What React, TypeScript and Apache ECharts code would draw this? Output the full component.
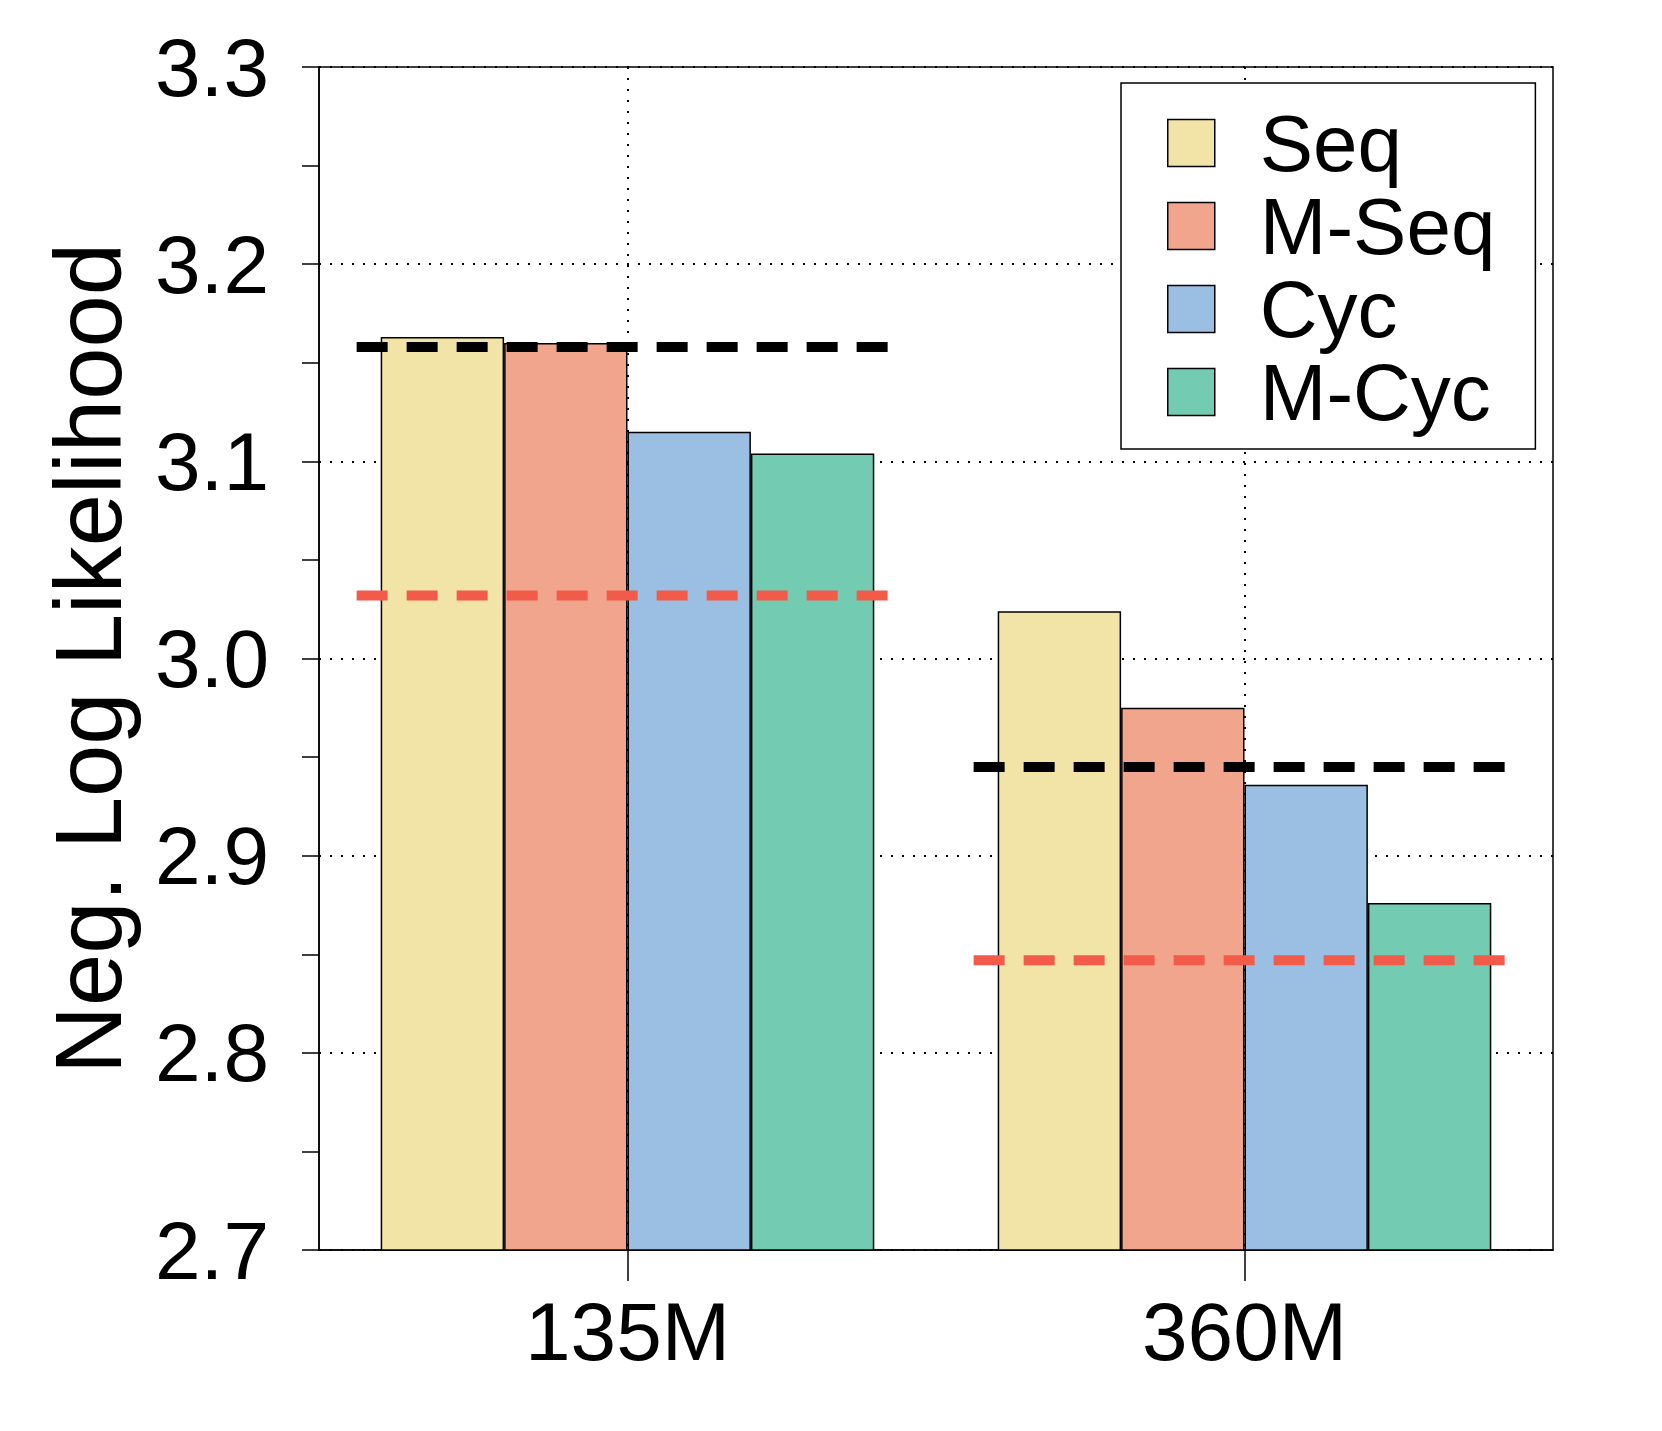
import React, { useEffect, useRef } from "react";
import * as echarts from "echarts";

const categories = ["135M", "360M"];
const seriesNames = ["Seq", "M-Seq", "Cyc", "M-Cyc"];
const seqValues = [3.163, 3.024];
const mSeqValues = [3.16, 2.975];
const cycValues = [3.115, 2.936];
const mCycValues = [3.104, 2.876];
const blackRefValues = [3.158, 2.945];
const redRefValues = [3.032, 2.847];
const yTicks = [2.7, 2.8, 2.9, 3.0, 3.1, 3.2, 3.3];

const colors = ["#F2E4A6", "#F1A58C", "#9BBFE3", "#73CCB2"];
const FONT = "'Liberation Sans', Arial, Helvetica, sans-serif";

export default function App() {
  const ref = useRef<HTMLDivElement>(null);
  useEffect(() => {
    if (!ref.current) return;
    const chart = echarts.init(ref.current, null, { renderer: "svg" });
    const values = [seqValues, mSeqValues, cycValues, mCycValues];
    const barSeries = seriesNames.map((name, i) => ({
      name,
      type: "bar",
      xAxisIndex: 0,
      data: values[i],
      barGap: "0%",
      barCategoryGap: "20%",
      itemStyle: { color: colors[i], borderColor: "#000", borderWidth: 1.5 },
      z: 2,
    }));
    const makeRef = (vals: number[], color: string, name: string) => ({
      name,
      type: "custom",
      xAxisIndex: 0,
      z: 5,
      data: vals.map((v, i) => [i, v]),
      encode: { x: 0, y: 1 },
      renderItem: (params: any, api: any) => {
        const c = api.coord([api.value(0), api.value(1)]);
        const bw = api.size([1, 0])[0];
        return {
          type: "line",
          shape: { x1: c[0] - bw * 0.439, y1: c[1], x2: c[0] + bw * 0.422, y2: c[1] },
          style: { stroke: color, lineWidth: 10, lineDash: [31, 19], fill: null },
        };
      },
    });
    chart.setOption({
      animation: false,
      backgroundColor: "#fff",
      textStyle: { fontFamily: FONT },
      grid: {
        left: 319,
        right: 109,
        top: 67,
        bottom: 181,
        show: true,
        borderColor: "#000",
        borderWidth: 1.5,
        backgroundColor: "transparent",
      },
      legend: {
        data: seriesNames,
        orient: "vertical",
        left: 1121,
        top: 83,
        padding: [20, 40, 17, 46],
        itemWidth: 47,
        itemHeight: 47,
        itemGap: 3,
        backgroundColor: "#fff",
        borderColor: "#000",
        borderWidth: 1.5,
        icon: "rect",
        textStyle: { fontSize: 80, fontFamily: FONT, color: "#000", lineHeight: 80, padding: [0, 0, 0, 40] },
        itemStyle: { borderColor: "#000", borderWidth: 1.5 },
        z: 20,
      },
      xAxis: [
        {
          type: "category",
          data: categories,
          boundaryGap: true,
          axisLine: { show: true, lineStyle: { color: "#000", width: 1.5 } },
          axisTick: { show: true, alignWithLabel: true, length: 31, lineStyle: { color: "#000", width: 1.5 } },
          axisLabel: { fontSize: 82, color: "#000", fontFamily: FONT, margin: 40 },
          splitLine: { show: false },
        },
        {
          type: "category",
          data: ["a", "b", "c", "d", "e"],
          boundaryGap: false,
          position: "bottom",
          axisLine: { show: false },
          axisTick: { show: false },
          axisLabel: { show: false },
          splitLine: {
            show: true,
            interval: (i: number) => i === 1 || i === 3,
            lineStyle: { color: "#000", width: 2, type: [2, 9] },
          },
        },
      ],
      yAxis: {
        type: "value",
        min: yTicks[0],
        max: yTicks[yTicks.length - 1],
        interval: 0.1,
        name: "Neg. Log Likelihood",
        nameLocation: "middle",
        nameGap: 184,
        nameTextStyle: { fontSize: 94, color: "#000", fontFamily: FONT },
        axisLine: { show: true, lineStyle: { color: "#000", width: 1.5 } },
        axisTick: { show: true, length: 17, lineStyle: { color: "#000", width: 1.5 } },
        minorTick: { show: true, splitNumber: 2, length: 17, lineStyle: { color: "#000", width: 1.5 } },
        axisLabel: {
          fontSize: 82,
          color: "#000",
          fontFamily: FONT,
          margin: 50,
          formatter: (v: number) => v.toFixed(1),
        },
        splitLine: { show: true, lineStyle: { color: "#000", width: 2, type: [2, 9] } },
      },
      series: [
        ...barSeries,
        makeRef(blackRefValues, "#000", "refBlack"),
        makeRef(redRefValues, "#F25A4A", "refRed"),
      ],
    });
    return () => chart.dispose();
  }, []);
  return <div ref={ref} style={{ position: "absolute", left: 0, top: 0, width: 1662, height: 1431 }} />;
}
